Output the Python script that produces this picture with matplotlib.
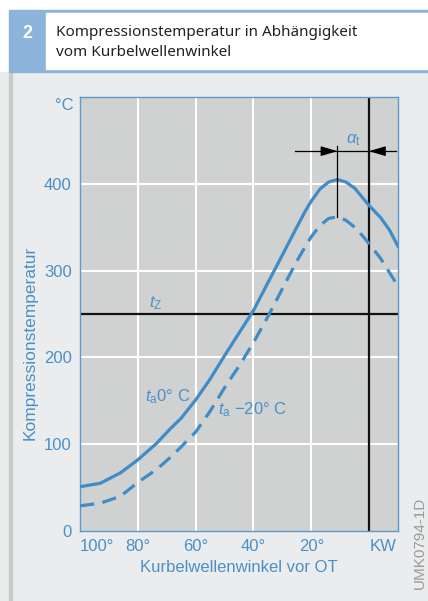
import numpy as np
import matplotlib.pyplot as plt
from matplotlib.patches import Rectangle

# Kurbelwellenwinkel vor OT [deg] und Kompressionstemperatur [degC]
winkel = [100, 93, 86, 80, 73.5, 69, 65, 60, 55, 50, 45, 40, 35, 30, 25, 22, 20, 17, 14, 11, 8, 5, 2.5, 0, -4, -7, -10]
temp_0 = [51, 55, 67, 82, 101, 117, 130, 151, 175, 202, 228, 254, 286, 318, 350, 369, 380, 394, 402, 405,
          402, 395, 385, 375, 361, 347, 328]
temp_m20 = [29, 32, 40, 56, 71, 84, 97, 114, 138, 165, 190, 217, 247, 279, 311, 328, 339, 352, 360, 362,
            358, 350, 341, 331, 314, 298, 282]

xticks = [100, 80, 60, 40, 20, -4.8]
xticklabels = ['100°', '80°', '60°', '40°', '20°', 'KW']
yticks = [0, 100, 200, 300, 400]
t_z = 250

BLUE = '#3f8cc6'
TXT = '#4a90c8'

plt.rcParams['font.family'] = ['Liberation Sans', 'DejaVu Sans']
plt.rcParams['mathtext.fontset'] = 'custom'
plt.rcParams['mathtext.rm'] = 'Liberation Sans'
plt.rcParams['mathtext.it'] = 'Liberation Sans:italic'

W, H = 428, 601
fig = plt.figure(figsize=(W/100, H/100), dpi=100, facecolor='white')

def px(x, y, w, h):
    return (x/W, 1 - (y+h)/H, w/W, h/H)

# header / background
b = px(0, 72, W, H-72)
fig.patches.append(Rectangle(b[:2], b[2], b[3], transform=fig.transFigure, color='#ebeced', zorder=-4))
b = px(9, 72, 3, H-72)
fig.patches.append(Rectangle(b[:2], b[2], b[3], transform=fig.transFigure, color='#c9caca', zorder=-3))
b = px(9, 10, W-9, 62)
fig.patches.append(Rectangle(b[:2], b[2], b[3], transform=fig.transFigure, color='#8cb3d9', zorder=-3))
b = px(46, 13, W-46, 56)
fig.patches.append(Rectangle(b[:2], b[2], b[3], transform=fig.transFigure, color='white', zorder=-2))
fig.text(27/W, 1-33/H, '2', color='white', fontsize=13, fontweight='bold', ha='center', va='center')
fig.text(56/W, 1-33/H, 'Kompressionstemperatur in Abhängigkeit', fontsize=11, family=['Noto Sans'],
         color='#222222', ha='left', va='center')
fig.text(56/W, 1-53/H, 'vom Kurbelwellenwinkel', fontsize=11, family=['Noto Sans'],
         color='#222222', ha='left', va='center')

ax = fig.add_axes(px(80, 97, 318, 434))
ax.set_facecolor('#d0d1d1')
ax.set_xlim(100, -10)
ax.set_ylim(0, 500)

for x in [80, 60, 40, 20]:
    ax.axvline(x, color='white', lw=1.5, zorder=1)
for y in [100, 200, 300, 400]:
    ax.axhline(y, color='white', lw=1.5, zorder=1)
ax.axvline(0, color='#111111', lw=1.6, zorder=2)
ax.axhline(t_z, color='#111111', lw=1.6, zorder=2)

ax.plot(winkel, temp_0, color=BLUE, lw=2.3, zorder=3, solid_joinstyle='round')
ax.plot(winkel, temp_m20, color=BLUE, lw=2.3, zorder=3, dashes=(4.5, 2.6))

# alpha_t Kennzeichnung
i = int(np.argmax(temp_0))
peak = winkel[i]
ya = 437.6
ax.plot([25.6, -9.3], [ya, ya], color='black', lw=0.9, zorder=4)
ax.plot([peak, peak], [444, temp_m20[i]], color='black', lw=0.9, zorder=4)
arr = dict(arrowstyle='-|>,head_length=1.0,head_width=0.3', color='black', lw=0.9,
           shrinkA=0, shrinkB=0, mutation_scale=10)
ax.annotate('', xy=(peak, ya), xytext=(peak + 5, ya), arrowprops=arr, zorder=5)
ax.annotate('', xy=(0, ya), xytext=(-5, ya), arrowprops=arr, zorder=5)
ax.text(5.5, 441, r'$\alpha_\mathrm{t}$', color=TXT, fontsize=12, ha='center', va='bottom')

ax.text(76, 252, r'$t_\mathrm{Z}$', color=TXT, fontsize=12, ha='left', va='bottom')
ax.text(77.5, 155, r'$t_\mathrm{a}$0° C', color=TXT, fontsize=12, ha='left', va='center')
ax.text(52.2, 140, r'$t_\mathrm{a}$ −20° C', color=TXT, fontsize=12, ha='left', va='center')

ax.set_yticks(yticks)
ax.set_yticklabels([str(v) for v in yticks])
ax.set_xticks(xticks)
ax.set_xticklabels(xticklabels)
ax.get_xticklabels()[0].set_ha('left')
ax.tick_params(length=0, labelsize=12, labelcolor=TXT)
ax.tick_params(axis='y', pad=6)
ax.tick_params(axis='x', pad=6)
for s in ax.spines.values():
    s.set_color('#5a9ad0')
    s.set_linewidth(1.0)
ax.set_xlabel('Kurbelwellenwinkel vor OT', fontsize=12, color=TXT, labelpad=4)

fig.text(74/W, 1-105/H, '°C', color=TXT, fontsize=12, ha='right', va='center')
fig.text(30/W, 1-343/H, 'Kompressionstemperatur', color=TXT, fontsize=12.5, rotation=90,
         ha='center', va='center')
fig.text(420/W, 1-543/H, 'UMK0794-1D', color='#9a9a9a', fontsize=11, rotation=90,
         ha='center', va='center')

fig.savefig('out.png', dpi=100, facecolor=fig.get_facecolor())
